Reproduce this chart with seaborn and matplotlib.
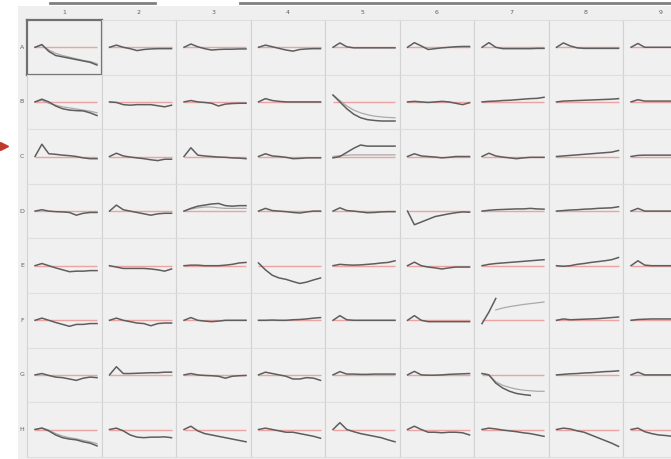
import matplotlib
matplotlib.use("Agg")
import matplotlib.pyplot as plt
from matplotlib.lines import Line2D
from matplotlib.patches import Rectangle
import seaborn as sns

row_labels = ["A", "B", "C", "D", "E", "F", "G", "H"]
col_labels = ["1", "2", "3", "4", "5", "6", "7", "8", "9"]
time_points = [0, 1, 2, 3, 4, 5, 6, 7, 8, 9]

row_A = [
    [0, 0.1, -0.15, -0.3, -0.35, -0.4, -0.45, -0.5, -0.55, -0.65],
    [0, 0.08, 0, -0.05, -0.12, -0.08, -0.06, -0.05, -0.05, -0.05],
    [0, 0.12, 0.02, -0.05, -0.1, -0.08, -0.07, -0.07, -0.06, -0.06],
    [0, 0.08, 0.02, -0.04, -0.1, -0.14, -0.08, -0.06, -0.05, -0.05],
    [0, 0.16, 0.02, -0.02, -0.02, -0.02, -0.02, -0.02, -0.02, -0.02],
    [0, 0.17, 0.05, -0.08, -0.05, -0.02, 0, 0.02, 0.03, 0.03],
    [0, 0.17, 0.0, -0.05, -0.05, -0.05, -0.05, -0.05, -0.04, -0.04],
    [0, 0.16, 0.05, -0.02, -0.04, -0.04, -0.04, -0.04, -0.04, -0.04],
    [0, 0.14, 0.0, 0.0, 0.0, 0.0, 0.0, 0.0, 0.0, 0.0],
]
row_B = [
    [0, 0.1, 0, -0.15, -0.25, -0.3, -0.32, -0.33, -0.4, -0.5],
    [0, -0.02, -0.1, -0.12, -0.1, -0.1, -0.1, -0.14, -0.18, -0.12],
    [0, 0.05, 0, -0.02, -0.05, -0.15, -0.08, -0.06, -0.05, -0.05],
    [0, 0.12, 0.05, 0.02, 0.0, 0.0, 0.0, 0.0, 0.0, 0.0],
    [0.25, 0.0, -0.25, -0.45, -0.58, -0.65, -0.68, -0.7, -0.7, -0.7],
    [0, 0.02, 0, -0.02, 0, 0.02, 0, -0.05, -0.1, -0.03],
    [0, 0.02, 0.03, 0.05, 0.06, 0.08, 0.1, 0.12, 0.13, 0.17],
    [0, 0.03, 0.04, 0.05, 0.06, 0.07, 0.08, 0.09, 0.1, 0.12],
    [0, 0.08, 0.03, 0.03, 0.03, 0.03, 0.03, 0.03, 0.03, 0.03],
]
row_C = [
    [0, 0.45, 0.1, 0.08, 0.05, 0.03, 0.0, -0.05, -0.08, -0.08],
    [0, 0.12, 0.02, -0.02, -0.05, -0.08, -0.12, -0.15, -0.1, -0.1],
    [0, 0.32, 0.05, 0.02, 0, -0.02, -0.03, -0.05, -0.06, -0.08],
    [0, 0.1, 0.02, 0, -0.03, -0.08, -0.07, -0.05, -0.05, -0.05],
    [-0.05, 0.0, 0.15, 0.3, 0.42, 0.38, 0.38, 0.38, 0.38, 0.38],
    [0, 0.1, 0.02, 0, -0.02, -0.05, -0.03, 0, 0, 0],
    [0, 0.12, 0.02, -0.02, -0.05, -0.08, -0.05, -0.03, -0.03, -0.03],
    [0, 0.02, 0.04, 0.06, 0.08, 0.1, 0.12, 0.14, 0.16, 0.22],
    [0, 0.04, 0.05, 0.05, 0.05, 0.05, 0.05, 0.05, 0.05, 0.05],
]
row_D = [
    [0, 0.05, 0, -0.02, -0.03, -0.05, -0.15, -0.08, -0.05, -0.05],
    [0, 0.22, 0.05, 0, -0.05, -0.1, -0.15, -0.1, -0.08, -0.08],
    [0, 0.1, 0.18, 0.22, 0.26, 0.28, 0.2, 0.18, 0.2, 0.2],
    [0, 0.1, 0.02, 0, -0.02, -0.05, -0.07, -0.03, 0, 0],
    [0, 0.12, 0.02, 0, -0.03, -0.06, -0.05, -0.03, -0.02, -0.02],
    [0, -0.5, -0.4, -0.3, -0.2, -0.15, -0.1, -0.06, -0.03, -0.04],
    [0, 0.03, 0.05, 0.06, 0.07, 0.08, 0.08, 0.1, 0.08, 0.07],
    [0, 0.02, 0.04, 0.05, 0.07, 0.08, 0.1, 0.11, 0.12, 0.16],
    [0, 0.1, 0.0, 0.0, 0.0, 0.0, 0.0, 0.0, 0.0, 0.0],
]
row_E = [
    [0, 0.08, 0, -0.08, -0.15, -0.22, -0.2, -0.2, -0.18, -0.18],
    [0, -0.05, -0.1, -0.1, -0.1, -0.1, -0.12, -0.15, -0.2, -0.12],
    [0, 0.02, 0.02, 0.0, 0, 0, 0.02, 0.05, 0.1, 0.12],
    [0.1, -0.15, -0.35, -0.45, -0.5, -0.58, -0.65, -0.6, -0.52, -0.45],
    [0, 0.05, 0.03, 0.02, 0.03, 0.05, 0.07, 0.1, 0.12, 0.18],
    [0, 0.13, 0.0, -0.05, -0.08, -0.12, -0.08, -0.05, -0.05, -0.05],
    [0, 0.05, 0.08, 0.1, 0.12, 0.14, 0.16, 0.18, 0.2, 0.22],
    [0, -0.02, 0, 0.05, 0.08, 0.12, 0.15, 0.18, 0.22, 0.3],
    [0, 0.18, 0.02, 0.0, 0.0, 0.0, 0.0, 0.0, 0.0, 0.0],
]
row_F = [
    [0, 0.08, 0, -0.08, -0.15, -0.22, -0.15, -0.15, -0.12, -0.12],
    [0, 0.08, 0, -0.05, -0.1, -0.12, -0.2, -0.12, -0.1, -0.1],
    [0, 0.1, 0.0, -0.03, -0.05, -0.03, 0, 0, 0, 0],
    [0, 0, 0.01, 0, 0, 0.02, 0.03, 0.05, 0.08, 0.1],
    [0, 0.17, 0.02, 0, 0, 0, 0, 0, 0, 0],
    [0, 0.17, 0.0, -0.05, -0.05, -0.05, -0.05, -0.05, -0.05, -0.05],
    [-0.12, 0.3, 0.8, None, None, None, None, None, None, None],
    [0, 0.05, 0.02, 0.03, 0.04, 0.05, 0.06, 0.08, 0.1, 0.12],
    [0, 0.03, 0.04, 0.05, 0.05, 0.05, 0.05, 0.05, 0.05, 0.05],
]
row_G = [
    [0, 0.05, -0.02, -0.08, -0.1, -0.15, -0.2, -0.12, -0.08, -0.1],
    [0, 0.3, 0.05, 0.05, 0.06, 0.07, 0.08, 0.08, 0.1, 0.1],
    [0, 0.05, 0, -0.02, -0.03, -0.05, -0.12, -0.05, -0.03, -0.02],
    [0, 0.1, 0.05, 0, -0.05, -0.15, -0.15, -0.1, -0.12, -0.2],
    [0, 0.12, 0.03, 0.03, 0.02, 0.02, 0.03, 0.03, 0.03, 0.03],
    [0, 0.13, 0.0, -0.01, -0.01, 0, 0.02, 0.03, 0.04, 0.05],
    [0.05, 0.0, -0.3, -0.48, -0.6, -0.68, -0.72, -0.75, None, None],
    [0, 0.02, 0.04, 0.05, 0.07, 0.08, 0.1, 0.12, 0.13, 0.15],
    [0, 0.1, 0.0, 0.0, 0.0, 0.0, 0.0, 0.0, 0.0, 0.0],
]
row_H = [
    [0, 0.05, -0.05, -0.2, -0.3, -0.35, -0.38, -0.45, -0.5, -0.6],
    [0, 0.05, -0.05, -0.2, -0.28, -0.3, -0.28, -0.28, -0.27, -0.3],
    [0, 0.12, -0.05, -0.15, -0.2, -0.25, -0.3, -0.35, -0.4, -0.45],
    [0, 0.05, 0.0, -0.05, -0.1, -0.1, -0.15, -0.2, -0.25, -0.32],
    [0, 0.25, 0.0, -0.08, -0.15, -0.2, -0.25, -0.3, -0.38, -0.45],
    [0, 0.12, 0, -0.1, -0.1, -0.12, -0.1, -0.1, -0.12, -0.2],
    [0, 0.05, 0.02, -0.02, -0.05, -0.08, -0.12, -0.15, -0.2, -0.25],
    [0, 0.05, 0.02, -0.05, -0.1, -0.2, -0.3, -0.4, -0.5, -0.62],
    [0, 0.05, -0.08, -0.15, -0.2, -0.22, -0.25, -0.25, -0.25, -0.25],
]

# secondary (light) series
light_A1 = [0, 0.08, -0.1, -0.22, -0.3, -0.36, -0.42, -0.48, -0.52, -0.6]
light_B1 = [0, 0.06, -0.05, -0.12, -0.18, -0.22, -0.26, -0.3, -0.34, -0.4]
light_B5 = [0.25, 0.05, -0.15, -0.3, -0.4, -0.47, -0.52, -0.55, -0.57, -0.58]
light_C5 = [0, 0.03, 0.05, 0.06, 0.06, 0.06, 0.06, 0.06, 0.06, 0.06]
light_D3 = [0, 0.08, 0.12, 0.15, 0.15, 0.12, 0.1, 0.1, 0.1, 0.1]
light_F7 = [None, None, 0.38, 0.45, 0.5, 0.54, 0.58, 0.61, 0.64, 0.67]
light_G7 = [0.05, 0.0, -0.25, -0.38, -0.46, -0.52, -0.56, -0.58, -0.6, -0.6]
light_H1 = [0, 0.06, -0.02, -0.15, -0.24, -0.3, -0.34, -0.4, -0.45, -0.52]

rows = [row_A, row_B, row_C, row_D, row_E, row_F, row_G, row_H]
light = {
    (0, 0): light_A1, (1, 0): light_B1, (1, 4): light_B5, (2, 4): light_C5,
    (3, 2): light_D3, (5, 6): light_F7, (6, 6): light_G7, (7, 0): light_H1,
}

W, H = 671, 459
fig = plt.figure(figsize=(W / 100, H / 100), dpi=100)
fig.patch.set_facecolor("white")

# panel background
fig.add_artist(Rectangle((18 / W, 0), 1 - 18 / W, 1 - 6 / H,
                         transform=fig.transFigure, facecolor="#efefef",
                         edgecolor="none", zorder=-5))
# top bars
for x0, x1 in [(50, 155), (240, 671)]:
    fig.add_artist(Line2D([x0 / W, x1 / W], [1 - 3 / H, 1 - 3 / H],
                          transform=fig.transFigure, color="#808080", lw=2.0))
# red arrow marker
fig.add_artist(Line2D([4 / W], [1 - 146 / H], transform=fig.transFigure,
                      marker=">", markersize=6, color="#c0392b", lw=0))

x0_px, y0_px = 27, 20
cw, ch = 74.5, 54.6


def xy(t, v):
    pts = [(a, b) for a, b in zip(t, v) if b is not None]
    return [p[0] for p in pts], [p[1] for p in pts]


for r, row in enumerate(rows):
    top = y0_px + r * ch
    fig.text(22 / W, 1 - (top + ch / 2) / H, row_labels[r], fontsize=4.5,
             color="#606060", ha="center", va="center")
    for c, vals in enumerate(row):
        left = x0_px + c * cw
        if r == 0:
            fig.text((left + cw / 2) / W, 1 - 12 / H, col_labels[c], fontsize=4.5,
                     color="#606060", ha="center", va="center")
        ax = fig.add_axes([left / W, 1 - (top + ch) / H, cw / W, ch / H])
        ax.set_facecolor("#f0f0f0")
        ax.set_xlim(-1.16, 9.65)
        ax.set_ylim(-1.0, 1.0)
        ax.set_xticks([])
        ax.set_yticks([])
        for name, s in ax.spines.items():
            s.set_color("#d2d2d2" if name in ("left", "right") else "#dedede")
            s.set_linewidth(0.8)
        ax.hlines(0, 0, 9, color="#eba3a3", lw=1.0, zorder=1)
        if (r, c) in light:
            lx, ly = xy(time_points, light[(r, c)])
            sns.lineplot(x=lx, y=ly, ax=ax, color="#aaaaaa", lw=0.9, zorder=2)
        dx, dy = xy(time_points, vals)
        sns.lineplot(x=dx, y=dy, ax=ax, color="#5e5e5e", lw=1.1, zorder=3)
        ax.set_xlabel("")
        ax.set_ylabel("")
        if r == 0 and c == 0:
            for s in ax.spines.values():
                s.set_color("#707070")
                s.set_linewidth(1.6)

fig.savefig("out.png", dpi=100)
